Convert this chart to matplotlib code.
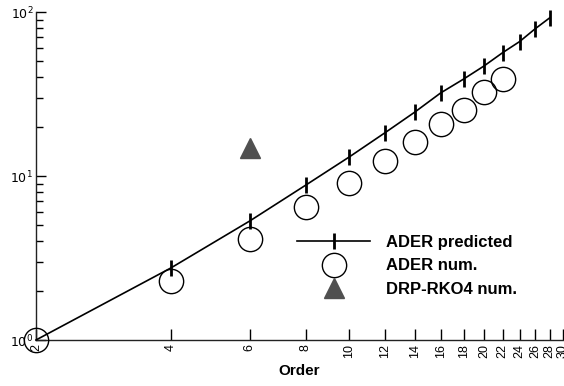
import matplotlib
matplotlib.use("Agg")
import matplotlib.pyplot as plt
from matplotlib.lines import Line2D

plt.rcParams['font.family'] = ['Liberation Sans', 'DejaVu Sans']

orders_pred = [2, 4, 6, 8, 10, 12, 14, 16, 18, 20, 22, 24, 26, 28]
ader_pred = [1.0, 2.75, 5.32, 8.8, 13.06, 18.3, 24.5, 32.1, 39.0, 46.9, 56.5, 66.0, 79.0, 92.0]

orders_num = [2, 4, 6, 8, 10, 12, 14, 16, 18, 20, 22]
ader_num = [1.0, 2.29, 4.13, 6.5, 9.06, 12.3, 16.1, 20.8, 25.3, 32.5, 39.0]

orders_drp = [6]
drp_num = [14.8]

xticks = [2, 4, 6, 8, 10, 12, 14, 16, 18, 20, 22, 24, 26, 28, 30]
xticklabels = [str(v) for v in xticks]

fig = plt.figure(figsize=(5.64, 3.86), dpi=100)
ax = fig.add_axes([36/564, 1 - 340/386, (563 - 36)/564, (340 - 12)/386])
ax.set_xscale('log')
ax.set_yscale('log')
ax.set_xlim(2, 30)
ax.set_ylim(1, 100)

ax.plot(orders_pred, ader_pred, color='black', lw=1.2, clip_on=False, zorder=3)
ax.plot(orders_pred[1:], ader_pred[1:], ls='none', marker='|', ms=12, mew=2,
        color='black', clip_on=False, zorder=3)
ax.plot(orders_num, ader_num, ls='none', marker='o', ms=17.5, mfc='none',
        mec='black', mew=1.0, clip_on=False, zorder=4)
ax.plot(orders_drp, drp_num, ls='none', marker='^', ms=15, color='#505050',
        mec='#505050', clip_on=False, zorder=4)

ax.spines['top'].set_visible(False)
ax.spines['right'].set_visible(False)
for s in ['left', 'bottom']:
    ax.spines[s].set_linewidth(1.0)
    ax.spines[s].set_color('#222222')

ax.xaxis.set_major_locator(matplotlib.ticker.FixedLocator(xticks))
ax.xaxis.set_minor_locator(matplotlib.ticker.NullLocator())
ax.set_xticklabels(xticklabels, rotation=90, fontsize=9)
ax.tick_params(axis='x', which='major', direction='in', length=8, width=1, pad=3)

ax.yaxis.set_major_locator(matplotlib.ticker.FixedLocator([1, 10, 100]))
ax.set_yticklabels([r'$10^0$', r'$10^1$', r'$10^2$'], fontsize=9)
ax.yaxis.set_minor_locator(matplotlib.ticker.LogLocator(base=10, subs=range(2, 10)))
ax.yaxis.set_minor_formatter(matplotlib.ticker.NullFormatter())
ax.tick_params(axis='y', which='major', direction='in', length=7, width=1, pad=2)
ax.tick_params(axis='y', which='minor', direction='in', length=5, width=1)

ax.set_xlabel('Order', fontsize=11, fontweight='bold', labelpad=4)

handles = [
    Line2D([0], [0], color='black', lw=1.2, marker='|', ms=12, mew=2),
    Line2D([0], [0], ls='none', marker='o', ms=17.5, mfc='none', mec='black', mew=1.0),
    Line2D([0], [0], ls='none', marker='^', ms=15, color='#505050'),
]
labels = ['ADER predicted', 'ADER num.', 'DRP-RKO4 num.']
leg = ax.legend(handles, labels, loc='upper left', bbox_to_anchor=(297/564, 1 - 235/386),
                bbox_transform=fig.transFigure, frameon=False,
                prop={'weight': 'bold', 'size': 12}, handlelength=4.4,
                labelspacing=0.5, handletextpad=0.95, borderpad=0, borderaxespad=0)

fig.savefig('out.png', dpi=100)
